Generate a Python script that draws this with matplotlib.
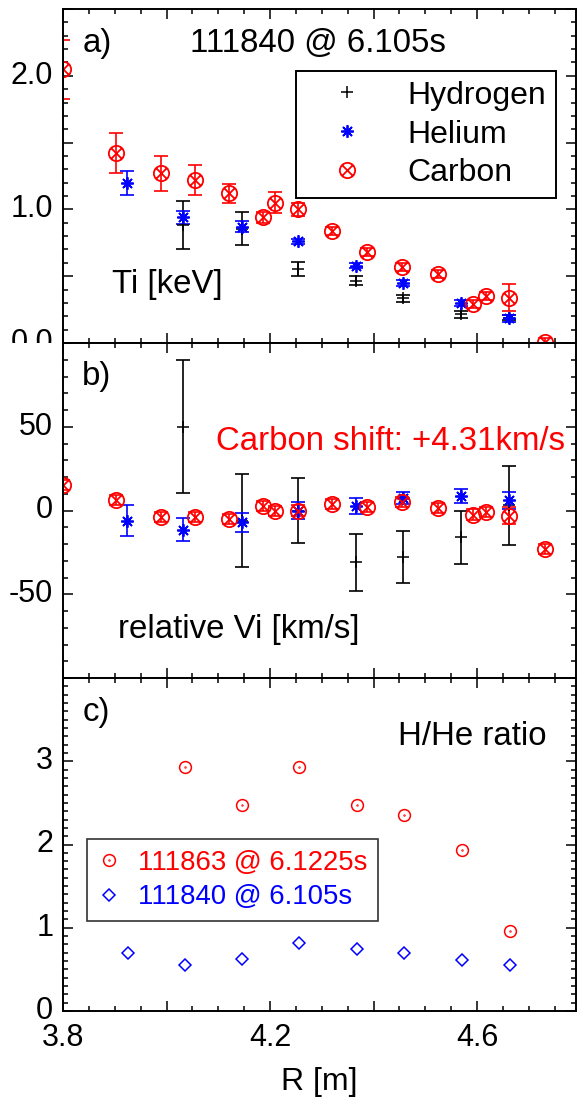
import numpy as np
import matplotlib
matplotlib.use("Agg")
import matplotlib.pyplot as plt
from matplotlib.path import Path
from matplotlib.lines import Line2D
from matplotlib.ticker import MultipleLocator, FuncFormatter
from matplotlib.transforms import Bbox, TransformedBbox

plt.rcParams["font.family"] = ["Liberation Sans", "DejaVu Sans"]
plt.rcParams["axes.unicode_minus"] = False

# ---- data ----
R_C = [3.800, 3.902, 3.989, 4.055, 4.121, 4.187, 4.210, 4.254,
       4.320, 4.387, 4.455, 4.525, 4.592, 4.617, 4.662, 4.731]
Ti_C = [2.05, 1.42, 1.27, 1.22, 1.12, 0.94, 1.05, 1.00,
        0.84, 0.68, 0.57, 0.52, 0.29, 0.35, 0.34, 0.01]
Ti_C_err = [0.22, 0.15, 0.13, 0.11, 0.07, 0.04, 0.08, 0.05,
            0.03, 0.03, 0.03, 0.03, 0.03, 0.03, 0.10, 0.03]
V_C = [15, 6, -3.6, -4, -4.8, 2.6, -0.4, 0,
       3.6, 2, 4.8, 1.4, -2.4, -1, -3, -22.8]
V_C_err = [3, 3, 3, 3, 3, 3, 3, 3, 3, 3, 3, 3, 3, 3, 5, 3]

R_He = [3.924, 4.032, 4.146, 4.254, 4.366, 4.457, 4.569, 4.662]
Ti_He = [1.20, 0.94, 0.87, 0.76, 0.58, 0.45, 0.30, 0.185]
Ti_He_err = [0.09, 0.05, 0.04, 0.02, 0.02, 0.02, 0.02, 0.025]
V_He = [-6, -11.4, -7, 0, 2.6, 7.4, 8.6, 6]
V_He_err = [9.5, 6.7, 5.7, 5, 4.6, 3.7, 4, 5]

R_H = [4.032, 4.146, 4.254, 4.366, 4.457, 4.569, 4.662]
Ti_H = [0.88, 0.855, 0.555, 0.466, 0.335, 0.215, 0.19]
Ti_H_err = [0.18, 0.125, 0.05, 0.035, 0.025, 0.025, 0.02]
V_H = [50, -6, 0, -31, -28, -16, 3]
V_H_err = [39.6, 28, 19.3, 17, 15.5, 16, 23.4]

R_863 = [4.035, 4.146, 4.256, 4.368, 4.459, 4.571, 4.664]
ratio_863 = [2.93, 2.48, 2.93, 2.47, 2.35, 1.93, 0.96]
R_840 = [3.926, 4.035, 4.146, 4.256, 4.368, 4.459, 4.571, 4.664]
ratio_840 = [0.70, 0.55, 0.63, 0.82, 0.75, 0.70, 0.61, 0.55]

# ---- markers ----
s = np.sqrt(0.5)
x_path = Path([(-s, -s), (s, s), (-s, s), (s, -s)],
              [Path.MOVETO, Path.LINETO, Path.MOVETO, Path.LINETO])
otimes = Path.make_compound_path(Path.unit_circle(), x_path)
dot = Path(Path.unit_circle().vertices * 0.07, Path.unit_circle().codes)
odot = Path.make_compound_path(Path.unit_circle(), dot)
aster = (8, 2, 0)

RED = "#ff0000"
BLUE = "#0000ff"
fs_txt = 23.8
fs_tick = 22

fig = plt.figure(figsize=(5.77, 10.98), dpi=100)
left = 63 / 577
width = (576 - 63) / 577
axa = fig.add_axes([left, 1 - 343 / 1098, width, 334 / 1098])
axb = fig.add_axes([left, 1 - 678 / 1098, width, 335 / 1098])
axc = fig.add_axes([left, 1 - 1011 / 1098, width, 333 / 1098])

for ax in (axa, axb, axc):
    ax.set_xlim(3.8, 4.791)
    ax.xaxis.set_major_locator(MultipleLocator(0.2))
    ax.xaxis.set_minor_locator(MultipleLocator(0.05))
    ax.tick_params(which="both", direction="in", top=True, right=True,
                   width=1.1, labelsize=fs_tick)
    ax.tick_params(which="major", length=7, pad=7)
    ax.tick_params(which="minor", length=3.6)
    for sp in ax.spines.values():
        sp.set_linewidth(1.4)
    ax.tick_params(axis="x", labelbottom=False)

axc.tick_params(axis="x", labelbottom=True, pad=9)
axc.xaxis.set_major_formatter(FuncFormatter(
    lambda v, p: "%.1f" % v if min(abs(v - 3.8), abs(v - 4.2), abs(v - 4.6)) < 1e-3 else ""))
axc.set_xlabel("R [m]", fontsize=23, labelpad=10)

ebkw = dict(fmt="none", capsize=4.7, elinewidth=1.2, capthick=1.2, clip_on=True)

# ---- panel a ----
axa.errorbar(R_H, Ti_H, yerr=Ti_H_err, ecolor="black", **ebkw)
axa.errorbar(R_He, Ti_He, yerr=Ti_He_err, ecolor=BLUE, **ebkw)
axa.errorbar(R_C, Ti_C, yerr=Ti_C_err, ecolor=RED, **ebkw)
axa.plot(R_H, Ti_H, ls="none", marker="+", ms=8, mew=1.1, color="black")
axa.plot(R_He, Ti_He, ls="none", marker=aster, ms=9, mew=1.3, color=BLUE)
axa.plot(R_C, Ti_C, ls="none", marker=otimes, ms=11, mew=1.3, mfc="none", color=RED)
axa.set_ylim(0, 2.5)
axa.yaxis.set_major_locator(MultipleLocator(0.5))
axa.yaxis.set_minor_locator(MultipleLocator(0.1))
axa.yaxis.set_major_formatter(FuncFormatter(
    lambda v, p: "%.1f" % v if abs(v - round(v)) < 1e-6 else ""))
axa.text(3.837, 2.18, "a)", fontsize=fs_txt, va="baseline")
axa.text(4.045, 2.18, "111840 @ 6.105s", fontsize=fs_txt, va="baseline")
axa.text(3.895, 0.375, "Ti [keV]", fontsize=fs_txt, va="baseline")
handles = [
    Line2D([], [], ls="none", marker="+", ms=8, mew=1.1, color="black"),
    Line2D([], [], ls="none", marker=aster, ms=9, mew=1.3, color=BLUE),
    Line2D([], [], ls="none", marker=otimes, ms=11, mew=1.3, mfc="none", color=RED),
]
leg = axa.legend(handles, ["Hydrogen", "Helium", "Carbon"], loc="upper right",
                 bbox_to_anchor=(556 / 577, 1 - 71 / 1098),
                 bbox_transform=fig.transFigure, borderaxespad=0,
                 fontsize=23, frameon=True, fancybox=False,
                 edgecolor="black", framealpha=1, borderpad=0.3,
                 handlelength=2.6, handletextpad=0.6, labelspacing=0.28)
leg.get_frame().set_linewidth(1.4)

# ---- panel b ----
axb.errorbar(R_H, V_H, yerr=V_H_err, ecolor="black", **ebkw)
axb.errorbar(R_He, V_He, yerr=V_He_err, ecolor=BLUE, **ebkw)
axb.errorbar(R_C, V_C, yerr=V_C_err, ecolor=RED, **ebkw)
axb.plot(R_H, V_H, ls="none", marker="+", ms=8, mew=1.1, color="black")
axb.plot(R_He, V_He, ls="none", marker=aster, ms=9, mew=1.3, color=BLUE)
axb.plot(R_C, V_C, ls="none", marker=otimes, ms=11, mew=1.3, mfc="none", color=RED)
axb.set_ylim(-100, 100)
axb.yaxis.set_major_locator(MultipleLocator(50))
axb.yaxis.set_minor_locator(MultipleLocator(10))
axb.yaxis.set_major_formatter(FuncFormatter(
    lambda v, p: "%d" % v if abs(v) < 99 else ""))
axb.text(3.837, 74.9, "b)", fontsize=fs_txt, va="baseline")
axb.text(4.096, 35.9, "Carbon shift: +4.31km/s", fontsize=fs_txt,
         color=RED, va="baseline")
axb.text(3.906, -76, "relative Vi [km/s]", fontsize=fs_txt, va="baseline")

# ---- panel c ----
axc.plot(R_863, ratio_863, ls="none", marker=odot, ms=8.5, mew=1.1,
         mfc="none", color=RED, label="111863 @ 6.1225s")
axc.plot(R_840, ratio_840, ls="none", marker="D", ms=6.2, mew=1.1,
         mfc="none", color=BLUE, label="111840 @ 6.105s")
axc.set_ylim(0, 4)
axc.yaxis.set_major_locator(MultipleLocator(1))
axc.yaxis.set_minor_locator(MultipleLocator(0.1))
axc.yaxis.set_major_formatter(FuncFormatter(
    lambda v, p: "%d" % v if v < 3.5 else ""))
axc.text(3.837, 3.48, "c)", fontsize=fs_txt, va="baseline")
axc.text(4.447, 3.2, "H/He ratio", fontsize=fs_txt, va="baseline")
legc = axc.legend(loc="upper left", bbox_to_anchor=(87 / 577, 1 - 839 / 1098),
                  bbox_transform=fig.transFigure, borderaxespad=0,
                  fontsize=19.8, frameon=True, fancybox=False,
                  edgecolor="#333333", framealpha=1, borderpad=0.4,
                  handlelength=0.8, handletextpad=0.65, labelspacing=0.3,
                  labelcolor=[RED, BLUE])
legc.get_frame().set_linewidth(1.2)

# y tick labels centred on the ticks; clip panel a's "0.0" at the panel edge
clip = TransformedBbox(Bbox.from_extents(0, 1 - 343 / 1098, 1, 1), fig.transFigure)
for ax in (axa, axb, axc):
    for t in ax.yaxis.get_major_ticks():
        t.label1.set_verticalalignment("center")
for t in axa.yaxis.get_major_ticks():
    t.label1.set_clip_box(clip)
    t.label1.set_clip_on(True)

fig.savefig("out.png", dpi=100)
